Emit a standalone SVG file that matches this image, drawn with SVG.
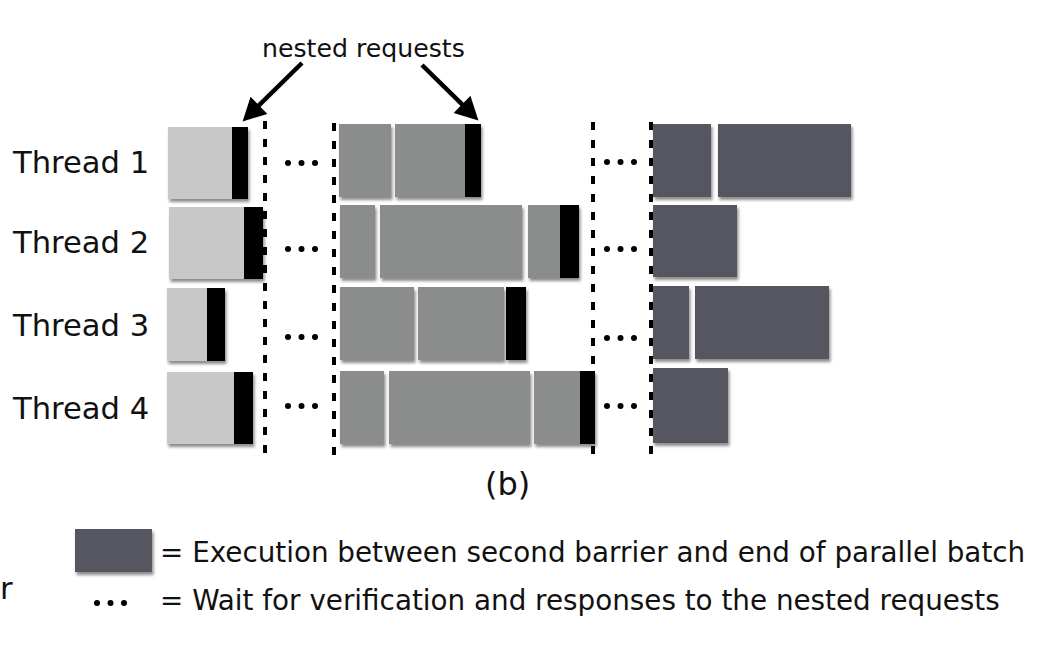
<svg xmlns="http://www.w3.org/2000/svg" width="1062" height="656" viewBox="0 0 1062 656">
<style>
text{font-family:"DejaVu Sans","Verdana",sans-serif;fill:#111}
.lbl{font-size:30.6px}
.leg{font-size:27.8px}
.light{fill:#c7c8c7}
.mid{fill:#8b8d8c}
.dark{fill:#54575e}
.blk{fill:#000}
.sh{filter:url(#shadow)}
.bar{stroke:#000;stroke-width:4;stroke-dasharray:8 10;fill:none}
.arr{stroke:#000;stroke-width:4.5;fill:none;marker-end:url(#head)}
.dot{fill:#000}
</style>
<defs>
<filter id="shadow" x="-20%" y="-20%" width="140%" height="140%">
<feDropShadow dx="1.5" dy="3" stdDeviation="1.8" flood-color="#000" flood-opacity="0.45"/>
</filter>
<marker id="head" markerUnits="userSpaceOnUse" markerWidth="24" markerHeight="24" refX="8" refY="11.5" orient="auto" viewBox="0 0 22 23">
<path d="M0,0 L22,11.5 L0,23 z" fill="#000"/>
</marker>
<g id="dots3"><circle cx="0" cy="0" r="3" class="dot"/><circle cx="13.5" cy="0" r="3" class="dot"/><circle cx="27" cy="0" r="3" class="dot"/></g>
</defs>
<rect width="1062" height="656" fill="#fff"/>

<text x="262" y="57" style="font-size:25.2px">nested requests</text>

<g id="labels">
<text class="lbl" x="13" y="173">Thread 1</text>
<text class="lbl" x="13" y="253">Thread 2</text>
<text class="lbl" x="13" y="336">Thread 3</text>
<text class="lbl" x="13" y="419">Thread 4</text>
</g>

<g id="phase1" class="sh">
<g id="t1p1"><rect class="light" x="168" y="127" width="65" height="72"/><rect class="blk" x="232" y="127" width="16" height="72"/></g>
<g id="t2p1"><rect class="light" x="169" y="207" width="76" height="72"/><rect class="blk" x="244" y="207" width="19" height="72"/></g>
<g id="t3p1"><rect class="light" x="167" y="288" width="41" height="73"/><rect class="blk" x="207" y="288" width="18" height="73"/></g>
<g id="t4p1"><rect class="light" x="167" y="372" width="68" height="72"/><rect class="blk" x="234" y="372" width="19" height="72"/></g>
</g>

<g id="phase2" class="sh">
<g id="t1p2"><rect class="mid" x="339" y="124" width="52" height="73"/><rect class="mid" x="395" y="124" width="71" height="73"/><rect class="blk" x="465" y="124" width="16" height="73"/></g>
<g id="t2p2"><rect class="mid" x="340" y="205" width="35" height="73"/><rect class="mid" x="380" y="205" width="142" height="73"/><rect class="mid" x="528" y="205" width="33" height="73"/><rect class="blk" x="560" y="205" width="19" height="73"/></g>
<g id="t3p2"><rect class="mid" x="340" y="287" width="74" height="73"/><rect class="mid" x="418" y="287" width="86" height="73"/><rect class="blk" x="506" y="287" width="20" height="73"/></g>
<g id="t4p2"><rect class="mid" x="340" y="371" width="44" height="73"/><rect class="mid" x="389" y="371" width="141" height="73"/><rect class="mid" x="534" y="371" width="46" height="73"/><rect class="blk" x="580" y="371" width="15" height="73"/></g>
</g>

<g id="phase3" class="sh">
<g id="t1p3"><rect class="dark" x="653" y="124" width="58" height="73"/><rect class="dark" x="718" y="124" width="133" height="73"/></g>
<g id="t2p3"><rect class="dark" x="653" y="205" width="84" height="72"/></g>
<g id="t3p3"><rect class="dark" x="653" y="286" width="36" height="73"/><rect class="dark" x="695" y="286" width="134" height="73"/></g>
<g id="t4p3"><rect class="dark" x="653" y="368" width="75" height="75"/></g>
</g>

<g id="barriers">
<line class="bar" x1="265" y1="121" x2="265" y2="462"/>
<line class="bar" x1="334" y1="123" x2="334" y2="464"/>
<line class="bar" x1="593" y1="122" x2="593" y2="461"/>
<line class="bar" x1="651" y1="122" x2="651" y2="461"/>
</g>

<g id="waits">
<use href="#dots3" x="288" y="163"/>
<use href="#dots3" x="288" y="249"/>
<use href="#dots3" x="288" y="337"/>
<use href="#dots3" x="288" y="406"/>
<use href="#dots3" x="607" y="162"/>
<use href="#dots3" x="607" y="249"/>
<use href="#dots3" x="607" y="338"/>
<use href="#dots3" x="607" y="406"/>
</g>

<g id="connectors">
<line class="arr" x1="302" y1="63" x2="253" y2="111.2"/>
<line class="arr" x1="422" y1="65" x2="468" y2="110.2"/>
</g>

<text x="485" y="495" style="font-size:32px">(b)</text>

<g id="legend">
<text class="lbl" x="0" y="599">r</text>
<rect class="dark sh" x="75" y="529" width="77" height="43"/>
<text class="leg" x="160" y="562">= Execution between second barrier and end of parallel batch</text>
<use href="#dots3" x="97" y="603"/>
<text class="leg" x="160" y="610">= Wait for verification and responses to the nested requests</text>
</g>
</svg>
